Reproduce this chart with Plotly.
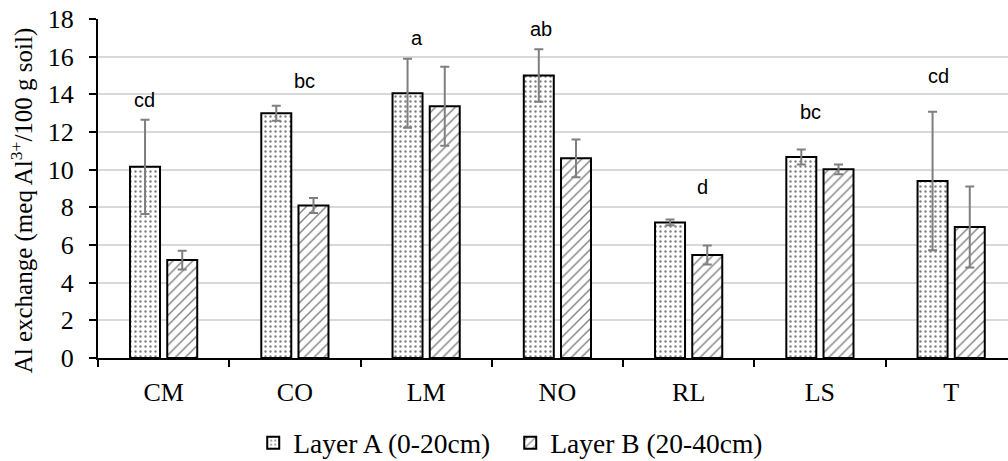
import plotly.graph_objects as go

categories = ["CM", "CO", "LM", "NO", "RL", "LS", "T"]
layer_a = [10.15, 13.0, 14.06, 15.0, 7.2, 10.67, 9.4]
layer_a_err = [2.5, 0.4, 1.83, 1.4, 0.15, 0.4, 3.68]
layer_b = [5.2, 8.1, 13.37, 10.6, 5.47, 10.02, 6.95]
layer_b_err = [0.5, 0.4, 2.1, 1.0, 0.5, 0.26, 2.15]
letters = ["cd", "bc", "a", "ab", "d", "bc", "cd"]
letter_y = [13.7, 14.72, 17.0, 17.46, 9.08, 13.08, 14.99]
letter_dx = [-0.142, 0.07, -0.072, -0.125, 0.107, -0.075, -0.1]

serif = "Liberation Serif"
err_style = dict(type="data", color="#7f7f7f", thickness=2, width=4.5)

fig = go.Figure()
fig.add_trace(go.Bar(
    x=categories, y=layer_a, name="Layer A (0-20cm)",
    error_y=dict(array=layer_a_err, **err_style),
    marker=dict(color="white", line=dict(color="black", width=2),
                pattern=dict(shape=".", fgcolor="black", bgcolor="white",
                             size=5, solidity=0.18)),
))
fig.add_trace(go.Bar(
    x=categories, y=layer_b, name="Layer B (20-40cm)",
    error_y=dict(array=layer_b_err, **err_style),
    marker=dict(color="white", line=dict(color="black", width=2),
                pattern=dict(shape="/", fgcolor="black", bgcolor="white",
                             size=7, solidity=0.2)),
))

for i, (txt, yy, dx) in enumerate(zip(letters, letter_y, letter_dx)):
    fig.add_annotation(x=i + dx, y=yy, text=txt, showarrow=False,
                       xref="x", yref="y",
                       font=dict(family="Liberation Sans", size=20, color="black"))

# y-axis title as rotated annotation
fig.add_annotation(
    text="Al exchange (meq Al<sup>3+</sup>/100 g soil)",
    xref="paper", yref="paper", x=(22 - 98) / 910, y=(358.3 - 200.5) / 339.3,
    xanchor="center", yanchor="middle", textangle=-90, showarrow=False,
    font=dict(family=serif, size=25, color="black"),
)

fig.update_layout(
    width=1008, height=461,
    margin=dict(l=98, r=0, t=19, b=103, autoexpand=False),
    paper_bgcolor="white", plot_bgcolor="white",
    barmode="group", bargap=0.433, bargroupgap=0.194,
    font=dict(family=serif, size=26, color="black"),
    legend=dict(orientation="h", x=0.453, xanchor="center", y=-0.25,
                yanchor="middle", font=dict(family=serif, size=27.5),
                itemwidth=30, traceorder="normal", entrywidth=212),
    showlegend=True,
)
fig.update_xaxes(
    type="category", range=[-0.5, 6.433],
    showline=True, linecolor="black", linewidth=2,
    ticks="outside", tickson="boundaries", ticklen=7, tickcolor="black", tickwidth=2,
    showgrid=False, automargin=False, ticklabelstandoff=10,
    tickfont=dict(family=serif, size=26, color="black"),
)
fig.update_yaxes(
    range=[0, 18], dtick=2, tick0=0,
    showline=True, linecolor="black", linewidth=2,
    ticks="outside", ticklen=7, tickcolor="black", tickwidth=2,
    showgrid=True, gridcolor="#d9d9d9", gridwidth=2, zeroline=False,
    automargin=False, ticklabelstandoff=10,
    tickfont=dict(family=serif, size=26, color="black"),
)

fig.write_html("out.html")
